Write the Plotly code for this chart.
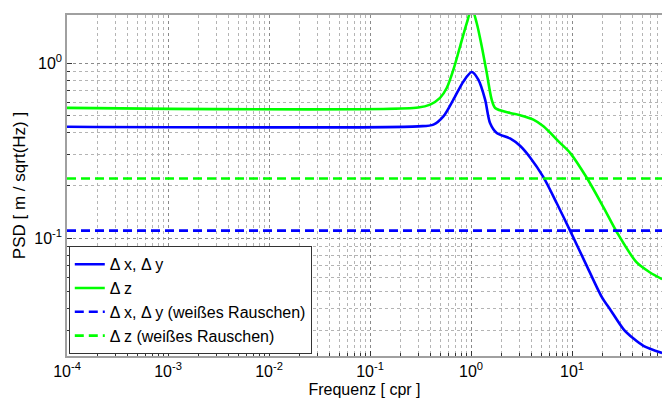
import plotly.graph_objects as go

# Frequencies [cpr] and PSD values
blue_f = [1e-4, 0.3, 0.424, 0.532, 0.668, 0.84, 1.016, 1.18, 1.377, 1.54, 1.796,
          2.43, 3.05, 3.84, 5.2, 7.05, 9.55, 13.97, 19.7, 24.0, 32.2, 40.0, 50.8, 77.8]
blue_v = [0.434, 0.436, 0.446, 0.497, 0.619, 0.786, 0.889, 0.804, 0.619, 0.456, 0.400,
          0.372, 0.338, 0.290, 0.224, 0.159, 0.111, 0.0699, 0.0464, 0.0392, 0.0305, 0.0271, 0.0245, 0.0223]

green_f = [1e-4, 0.3, 0.393, 0.493, 0.574, 0.668, 0.778, 0.906, 1.016, 1.138, 1.276, 1.43,
           1.60, 1.73, 2.43, 3.05, 4.14, 5.2, 7.6, 9.55, 13.97, 20.4, 27.7, 43.6, 59.2, 77.8]
green_v = [0.556, 0.558, 0.580, 0.633, 0.721, 0.916, 1.243, 1.687, 2.05, 1.687, 1.243, 0.877,
           0.619, 0.555, 0.520, 0.505, 0.476, 0.436, 0.351, 0.308, 0.222, 0.151, 0.109, 0.0731, 0.0641, 0.0587]

white_xy = 0.111
white_z = 0.220
noise_f = [1e-4, 77.8]

x_tickvals = [1e-4, 1e-3, 1e-2, 1e-1, 1, 10]
x_ticktext = ["10<sup>-4</sup>", "10<sup>-3</sup>", "10<sup>-2</sup>", "10<sup>-1</sup>",
              "10<sup>0</sup>", "10<sup>1</sup>"]
y_tickvals = [0.1, 1]
y_ticktext = ["10<sup>-1</sup>", "10<sup>0</sup>"]

# minor (2..9 per decade) tick positions
x_minor = [m * 10.0 ** e for e in range(-4, 2) for m in range(2, 10)]
y_minor = [m * 10.0 ** e for e in range(-2, 1) for m in range(2, 10)]

names = ["Δ x, Δ y", "Δ z", "Δ x, Δ y (weißes Rauschen)", "Δ z (weißes Rauschen)"]

BLUE = "#0000FF"
GREEN = "#00FF00"
FONT = "Liberation Sans, Arial, sans-serif"

fig = go.Figure()
fig.add_trace(go.Scatter(x=blue_f, y=blue_v, mode="lines", name=names[0],
                         line=dict(color=BLUE, width=2.6, shape="spline", smoothing=0.8)))
fig.add_trace(go.Scatter(x=green_f, y=green_v, mode="lines", name=names[1],
                         line=dict(color=GREEN, width=2.6, shape="spline", smoothing=0.8)))
fig.add_trace(go.Scatter(x=noise_f, y=[white_xy, white_xy], mode="lines", name=names[2],
                         line=dict(color=BLUE, width=2.6, dash="9px,5px")))
fig.add_trace(go.Scatter(x=noise_f, y=[white_z, white_z], mode="lines", name=names[3],
                         line=dict(color=GREEN, width=2.6, dash="9px,5px")))

grid_major = "#8a8a8a"
grid_minor = "#b4b4b4"


def axis_style(minor_vals):
    return dict(
        type="log", showline=True, linecolor="#a0a0a0", linewidth=1.5,
        ticks="inside", ticklen=5, tickcolor="#333",
        showgrid=True, gridcolor=grid_major, griddash="dot", gridwidth=1,
        minor=dict(tickmode="array", tickvals=minor_vals, ticks="inside", ticklen=3,
                   tickcolor="#333", showgrid=True,
                   gridcolor=grid_minor, griddash="dot", gridwidth=1),
        tickfont=dict(family=FONT, size=16, color="#000"),
        zeroline=False, automargin=False,
    )


fig.update_xaxes(
    range=[-4, 1.89], tickmode="array", tickvals=x_tickvals, ticktext=x_ticktext,
    mirror=True,
    title=dict(text="Frequenz [ cpr ]", font=dict(family=FONT, size=16, color="#000"), standoff=12),
    **axis_style(x_minor),
)
fig.update_yaxes(
    range=[-1.669, 0.274], tickmode="array", tickvals=y_tickvals, ticktext=y_ticktext,
    mirror=False,
    title=dict(text="PSD [ m / sqrt(Hz) ]", font=dict(family=FONT, size=17, color="#000"), standoff=4),
    **axis_style(y_minor),
)

fig.update_layout(
    width=662, height=398,
    margin=dict(l=67, r=0, t=15, b=42),
    paper_bgcolor="white", plot_bgcolor="white",
    font=dict(family=FONT, color="#000"),
    legend=dict(x=0.003, y=0.005, xanchor="left", yanchor="bottom",
                bgcolor="white", bordercolor="#333", borderwidth=1,
                font=dict(family=FONT, size=16, color="#000"), tracegroupgap=0),
    showlegend=True,
)

fig.write_html("out.html")
